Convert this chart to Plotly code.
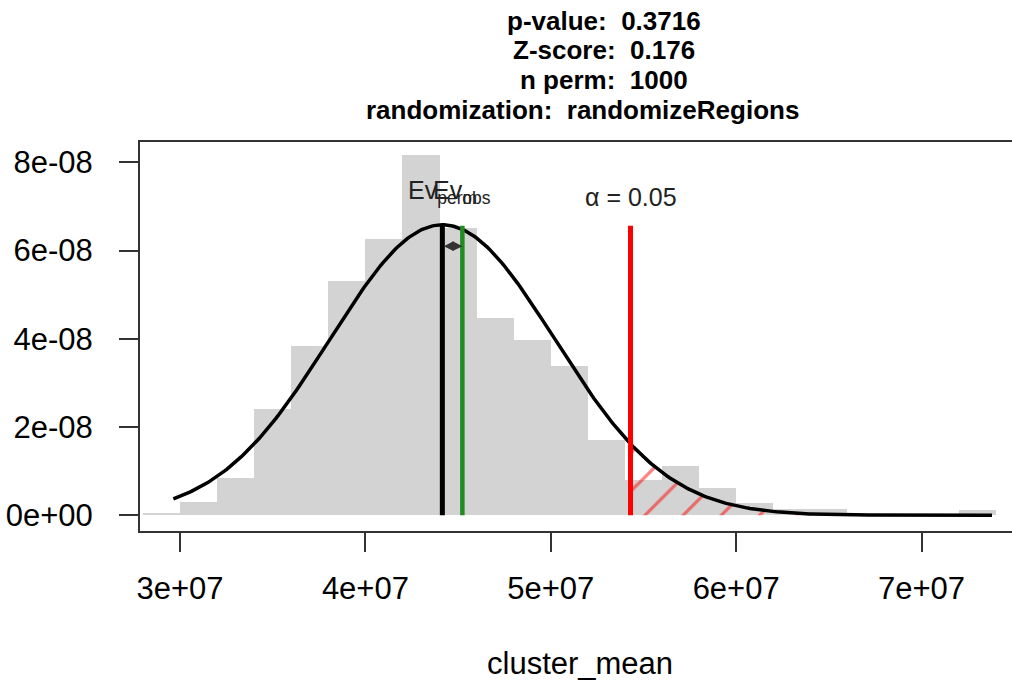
import numpy as np
import plotly.graph_objects as go

# ---------------- data ----------------
BIN_EDGES = [28e6, 30e6, 32e6, 34e6, 36e6, 38e6, 40e6, 42e6, 44e6, 46e6, 48e6, 50e6,
             52e6, 54e6, 56e6, 58e6, 60e6, 62e6, 64e6, 66e6, 68e6, 70e6, 72e6, 74e6]
DENSITY_E9 = [0.6, 3.0, 8.5, 24.0, 38.4, 53.0, 62.6, 81.6, 65.1, 44.8, 39.7, 33.8,
              17.1, 7.9, 11.2, 6.1, 2.7, 1.4, 1.5, 0.0, 0.0, 0.0, 1.1]

PERM_MEAN = 44.15e6      # mean of permuted values (black line)
PERM_SD = 6.06e6         # sd of the fitted normal curve
PERM_MIN = 29.64e6       # curve drawn from min ...
PERM_MAX = 73.8e6        # ... to max of permuted values
OBSERVED = 45.23e6       # observed value (green line)
ALPHA_X = 54.3e6         # alpha = 0.05 threshold (red line)
LINE_TOP = 6.56e-8
ARROW_Y = 6.1e-8
EV_LABEL_Y = 6.92e-8
ALPHA_LABEL_Y = 6.85e-8

TITLE_LINES = ["p-value:  0.3716", "Z-score:  0.176", "n perm:  1000",
               "randomization:  randomizeRegions"]
X_TICKS = [3e7, 4e7, 5e7, 6e7, 7e7]
X_TICK_TEXT = ["3e+07", "4e+07", "5e+07", "6e+07", "7e+07"]
Y_TICKS = [0, 2e-8, 4e-8, 6e-8, 8e-8]
Y_TICK_TEXT = ["0e+00", "2e-08", "4e-08", "6e-08", "8e-08"]
X_LABEL = "cluster_mean"

# ---------------- derived ----------------
edges = np.array(BIN_EDGES)
centers = (edges[:-1] + edges[1:]) / 2
widths = np.diff(edges)
dens = np.array(DENSITY_E9) * 1e-9


def npdf(x):
    return np.exp(-0.5 * ((x - PERM_MEAN) / PERM_SD) ** 2) / (PERM_SD * np.sqrt(2 * np.pi))


cx = np.linspace(PERM_MIN, PERM_MAX, 400)
cy = npdf(cx)

mask = cx >= ALPHA_X
hx = np.concatenate([[ALPHA_X], cx[mask]])
hy = np.concatenate([[npdf(ALPHA_X)], cy[mask]])

FONT = "Liberation Sans, Arial, sans-serif"

fig = go.Figure()
fig.add_trace(go.Bar(x=centers, y=dens, width=widths, marker=dict(color="#D3D3D3", line=dict(width=0)),
                     hoverinfo="skip"))
fig.add_trace(go.Scatter(x=hx, y=hy, mode="lines", fill="tozeroy", line=dict(width=0, color="rgba(0,0,0,0)"),
                         fillcolor="rgba(0,0,0,0)",
                         fillpattern=dict(shape="/", fgcolor="#FF0000", bgcolor="rgba(0,0,0,0)", size=27,
                                          solidity=0.12, fillmode="overlay"),
                         hoverinfo="skip"))
fig.add_trace(go.Scatter(x=cx, y=cy, mode="lines", line=dict(color="black", width=3.5), hoverinfo="skip"))
fig.add_trace(go.Scatter(x=[PERM_MEAN, PERM_MEAN], y=[0, LINE_TOP], mode="lines",
                         line=dict(color="black", width=5), hoverinfo="skip"))
fig.add_trace(go.Scatter(x=[OBSERVED, OBSERVED], y=[0, LINE_TOP], mode="lines",
                         line=dict(color="#228B22", width=4.5), hoverinfo="skip"))
fig.add_trace(go.Scatter(x=[ALPHA_X, ALPHA_X], y=[0, LINE_TOP], mode="lines",
                         line=dict(color="red", width=5), hoverinfo="skip"))

X_RANGE = [27.84e6, 74.88e6]
Y_RANGE = [-3.56e-9, 8.46e-8]

annotations = []
# title lines (pixel positions converted to paper coordinates)
PLOT_L, PLOT_T, PLOT_W, PLOT_H = 140, 142, 872, 389
title_px = [(604, 21), (604, 50), (604, 80), (582, 110)]
for txt, (px, py) in zip(TITLE_LINES, title_px):
    annotations.append(dict(text="<b>" + txt + "</b>", xref="paper", yref="paper",
                            x=(px - PLOT_L) / PLOT_W, y=(PLOT_T - py) / PLOT_H + 1,
                            xanchor="center", yanchor="middle", showarrow=False,
                            font=dict(family=FONT, size=26, color="black")))
annotations.append(dict(text=X_LABEL, xref="paper", yref="paper",
                        x=(580 - PLOT_L) / PLOT_W, y=1 - (663 - PLOT_T) / PLOT_H,
                        xanchor="center", yanchor="middle", showarrow=False,
                        font=dict(family=FONT, size=31, color="black")))
annotations.append(dict(text="Ev<sub>perm</sub>", x=PERM_MEAN, y=EV_LABEL_Y, xref="x", yref="y",
                        xanchor="center", yanchor="bottom", showarrow=False,
                        font=dict(family=FONT, size=25, color="#222")))
annotations.append(dict(text="Ev<sub>obs</sub>", x=OBSERVED, y=EV_LABEL_Y, xref="x", yref="y",
                        xanchor="center", yanchor="bottom", showarrow=False,
                        font=dict(family=FONT, size=25, color="#222")))
annotations.append(dict(text="\u03b1 = 0.05", x=ALPHA_X, y=ALPHA_LABEL_Y, xref="x", yref="y",
                        xanchor="center", yanchor="bottom", showarrow=False,
                        font=dict(family=FONT, size=25, color="#222")))
annotations.append(dict(x=OBSERVED, y=ARROW_Y, ax=PERM_MEAN, ay=ARROW_Y, xref="x", yref="y",
                        axref="x", ayref="y", text="", showarrow=True, arrowhead=2, arrowside="end+start",
                        arrowsize=1.6, arrowwidth=1.2, arrowcolor="#333"))

fig.update_layout(
    width=1012, height=684, margin=dict(l=140, r=0, t=142, b=153, pad=0),
    paper_bgcolor="white", plot_bgcolor="white", showlegend=False, bargap=0,
    annotations=annotations,
    xaxis=dict(range=X_RANGE, tickvals=X_TICKS, ticktext=X_TICK_TEXT, ticks="outside", ticklen=19,
               tickwidth=2, tickcolor="#333", showline=True, linecolor="#333", linewidth=2, mirror=True,
               showgrid=False, zeroline=False, ticklabelstandoff=10,
               tickfont=dict(family=FONT, size=31, color="black")),
    yaxis=dict(range=Y_RANGE, tickvals=Y_TICKS, ticktext=Y_TICK_TEXT, ticks="outside", ticklen=19,
               tickwidth=2, tickcolor="#333", showline=True, linecolor="#333", linewidth=2, mirror=False,
               showgrid=False, zeroline=False, ticklabelstandoff=20,
               tickfont=dict(family=FONT, size=31, color="black")),
)

fig.write_html("out.html", config={"displayModeBar": False},
               post_script="document.body.style.margin='0';document.body.style.overflow='hidden';")
